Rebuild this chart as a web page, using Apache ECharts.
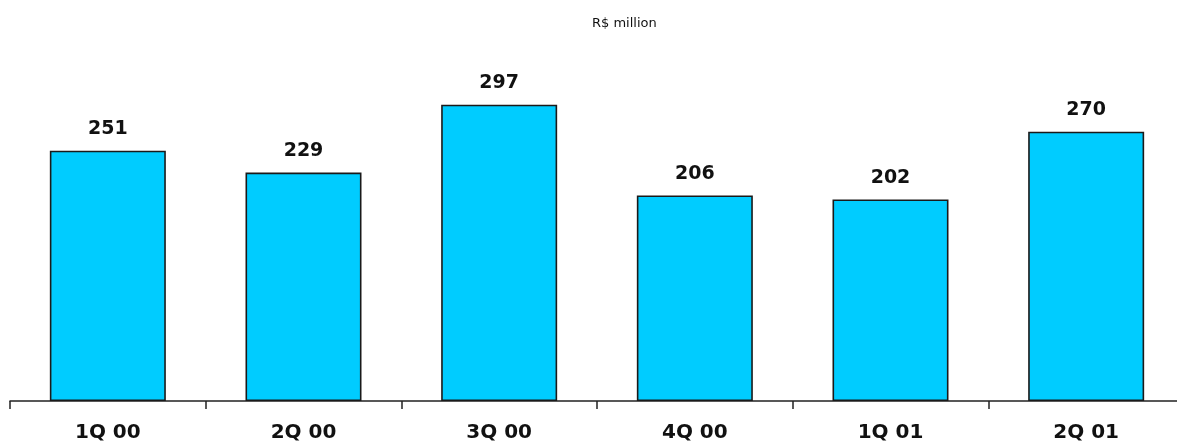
<!DOCTYPE html>
<html>
<head>
<meta charset="utf-8">
<style>
  html, body { margin: 0; padding: 0; background: #ffffff; overflow: hidden; }
  /* the axis runs a few pixels past the right edge of the window */
  #chart { width: 1184px; height: 443px; }
</style>
<script src="https://cdn.jsdelivr.net/npm/echarts@6/dist/echarts.min.js"></script>
</head>
<body>
<div id="chart"></div>
<script>
// Quarterly values, R$ million
const quarters = ['1Q 00', '2Q 00', '3Q 00', '4Q 00', '1Q 01', '2Q 01'];
const values = [251, 229, 297, 206, 202, 270];
const unitLabel = 'R$ million';

const font = '"DejaVu Sans", Verdana, sans-serif';

const chart = echarts.init(document.getElementById('chart'), null, { renderer: 'canvas' });
chart.setOption({
  animation: false,
  backgroundColor: '#ffffff',
  title: {
    text: unitLabel,
    left: 592,
    top: 17,
    padding: 0,
    textStyle: { fontFamily: font, fontSize: 13, fontWeight: 'normal', color: '#111111' }
  },
  grid: { left: 10, right: 0, top: 2, bottom: 41, containLabel: false },
  xAxis: {
    type: 'category',
    data: quarters,
    axisLine: { show: true, lineStyle: { color: '#222222', width: 1.5 } },
    axisTick: { show: true, length: 8, lineStyle: { color: '#222222', width: 1.5 } },
    axisLabel: {
      margin: 22,
      fontFamily: font,
      fontSize: 20,
      fontWeight: 'bold',
      color: '#111111'
    }
  },
  yAxis: {
    type: 'value',
    min: 0,
    max: 400,
    show: false,
    splitLine: { show: false }
  },
  series: [{
    type: 'bar',
    data: values,
    barWidth: 116,
    itemStyle: { color: '#00CCFF', borderColor: '#1a1a1a', borderWidth: 1.6 },
    label: {
      show: true,
      position: 'top',
      distance: 12,
      fontFamily: font,
      fontSize: 19,
      fontWeight: 'bold',
      color: '#111111'
    }
  }]
});
</script>
</body>
</html>
